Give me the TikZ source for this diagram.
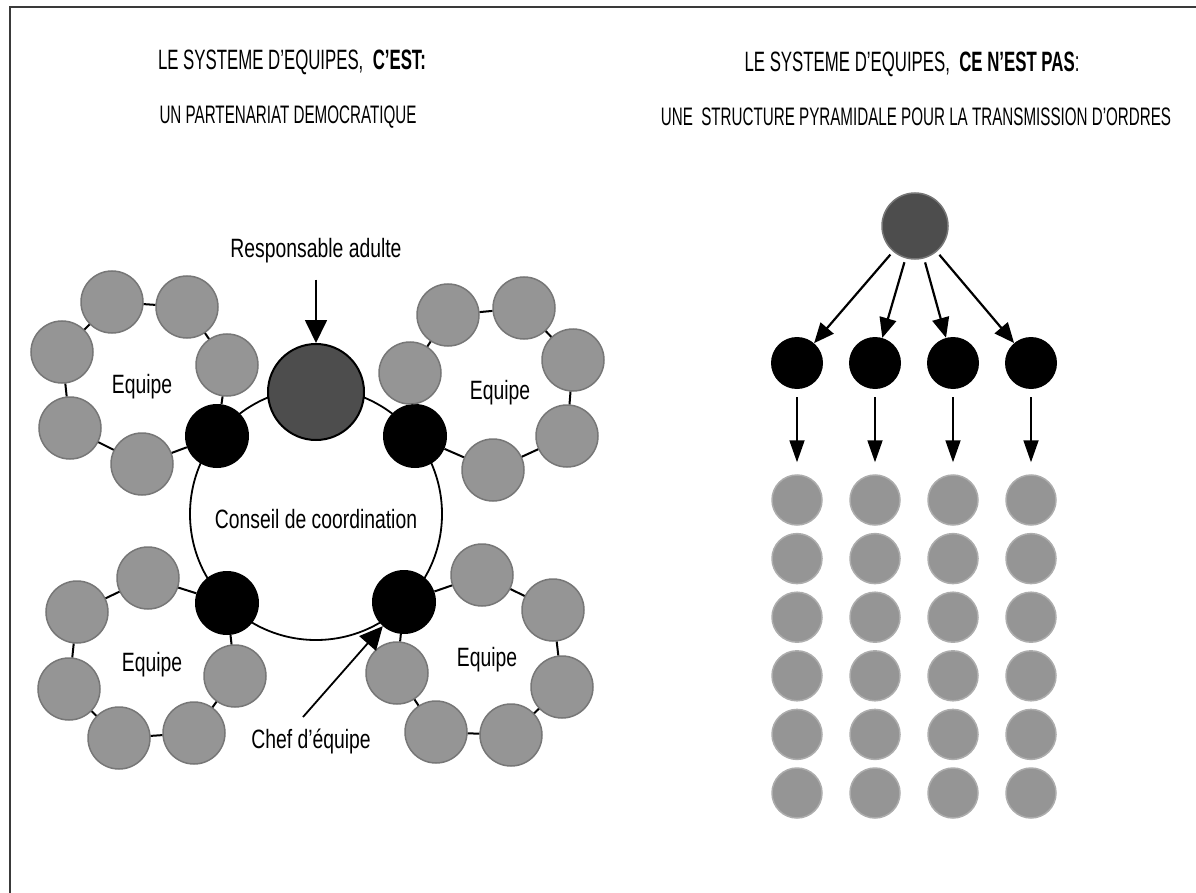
\documentclass[tikz,border=0pt]{standalone}
\usepackage{fontspec}
\setmainfont{Liberation Sans}[FakeStretch=0.73]
\newfontfamily\entete{Liberation Sans}[FakeStretch=0.6]
\usepackage{tikz}
\usetikzlibrary{arrows.meta,positioning,calc}
\definecolor{pion}{HTML}{959595}
\definecolor{pionbord}{HTML}{777777}
\definecolor{adulte}{HTML}{4D4D4D}
\definecolor{cadre}{HTML}{3A3A3A}
\definecolor{rangbord}{HTML}{ADADAD}

\begin{document}
\begin{tikzpicture}[x=1pt,y=-1pt,
  titre/.style={font=\entete\fontsize{28}{32}\selectfont},
  soustitre/.style={font=\entete\fontsize{25.3}{29}\selectfont},
  lbl/.style={font=\fontsize{26.5}{30}\selectfont,inner sep=2pt},
  membre/.style={circle,fill=pion,draw=pionbord,line width=1.5pt,minimum size=62pt,inner sep=0pt},
  chef/.style={circle,fill=black,minimum size=64pt,inner sep=0pt},
  resp/.style={circle,fill=adulte,draw=black,line width=2pt,minimum size=96pt,inner sep=0pt},
  conseil/.style={circle,draw=black,line width=1.8pt,minimum size=252pt,inner sep=0pt},
  lien/.style={line width=2pt},
  fleche/.style={-{Triangle[length=23pt,width=22pt]},line width=1.8pt},
  chefp/.style={circle,fill=black,minimum size=52pt,inner sep=0pt},
  rang/.style={circle,fill=pion,draw=rangbord,line width=1.5pt,minimum size=50pt,inner sep=0pt},
  tete/.style={circle,fill=adulte,draw=pionbord,line width=1.5pt,minimum size=66pt,inner sep=0pt},
  ordre/.style={-{Triangle[length=20pt,width=17pt]},line width=2.2pt},
  descente/.style={-{Triangle[length=22pt,width=15pt]},line width=1.8pt}
]
\useasboundingbox (0,0) rectangle (1196,893);
\draw[cadre,line width=2.2pt] (10,893) -- (10,7) -- (1196,7);

% en-tetes
\node[titre] (tg) at (292,62) {LE SYSTEME D’EQUIPES, \ \textbf{C’EST:}};
\node[soustitre] (sg) at (288,117) {UN PARTENARIAT DEMOCRATIQUE};
\node[titre] (td) at (912,64) {LE SYSTEME D’EQUIPES, \ \textbf{CE N’EST PAS}:};
\node[soustitre] (sd) at (916,117) {UNE\ \ STRUCTURE PYRAMIDALE POUR LA TRANSMISSION D’ORDRES};

% partenariat
\node[conseil] (cons) at (316,514) {};
\node[lbl] (conslbl) at (316,519) {Conseil de coordination};
\node[resp] (resp) at (316,392) {};
\node[chef] (chtg) at (217,436) {};
\node[chef] (chtd) at (415,436) {};
\node[chef] (chbg) at (227,603) {};
\node[chef] (chbd) at (404,602) {};

\foreach \n/\x/\y in {a1/112/302, a2/187/307, a3/227/365, a4/142/464, a5/70/428, a6/62/352,
                      b1/410/373, b2/448/315, b3/524/308, b4/573/360, b5/567/436, b6/493/470,
                      c1/148/578, c2/77/612, c3/69/689, c4/119/738, c5/194/733, c6/235/676,
                      d1/482/575, d2/553/610, d3/562/687, d4/511/735, d5/436/732, d6/397/673}
  \node[membre] (\n) at (\x,\y) {};

\foreach \u/\v in {chtg/a3, a3/a2, a2/a1, a1/a6, a6/a5, a5/a4, a4/chtg,
                   chtd/b1, b1/b2, b2/b3, b3/b4, b4/b5, b5/b6, b6/chtd,
                   chbg/c1, c1/c2, c2/c3, c3/c4, c4/c5, c5/c6, c6/chbg,
                   chbd/d1, d1/d2, d2/d3, d3/d4, d4/d5, d5/d6, d6/chbd}
  \draw[lien] (\u) -- (\v);

\node[lbl] (eqa) at (142,387) {Equipe};
\node[lbl] (eqb) at (500,393) {Equipe};
\node[lbl] (eqc) at (152,665) {Equipe};
\node[lbl] (eqd) at (487,660) {Equipe};

\node[lbl] (resplbl) at (316,251) {Responsable adulte};
\draw[fleche,shorten <=14pt] (resplbl) -- (resp);
\node[lbl] (cheflbl) at (311,741) {Chef d’équipe};
\coordinate (chefpied) at (303,717);
\draw[fleche] (chefpied) -- (chbd);

% pyramide
\node[tete] (sommet) at (915,226) {};
\foreach \i/\x in {1/797, 2/875, 3/953, 4/1031} {
  \node[chefp] (p\i) at (\x,363) {};
  \draw[ordre,shorten <=4pt] (sommet) -- (p\i);
  \foreach \j in {1,...,6}
    \node[rang] (r\i\j) at (\x,{500+58.6*(\j-1)}) {};
  \draw[descente,shorten <=8pt,shorten >=12pt] (p\i) -- (r\i1);
}
\end{tikzpicture}
\end{document}
